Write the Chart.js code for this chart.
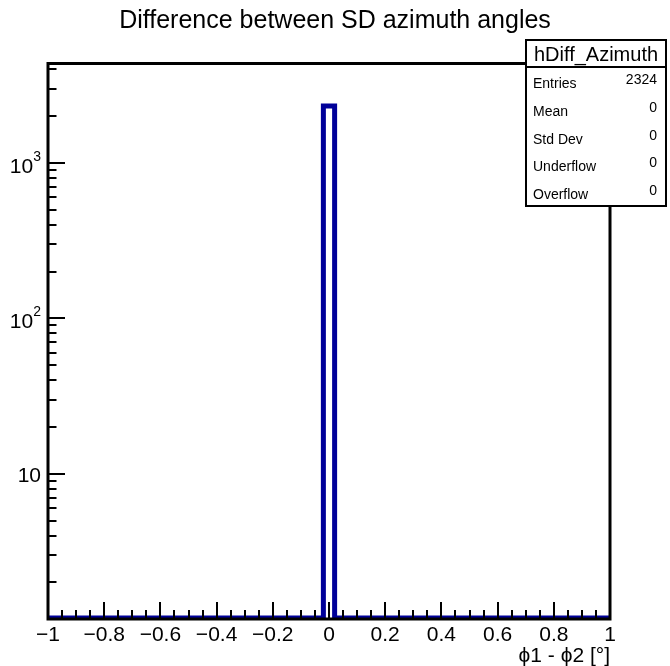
<!DOCTYPE html>
<html>
<head>
<meta charset="utf-8">
<title>hDiff_Azimuth</title>
<script src="https://cdn.jsdelivr.net/npm/chart.js@4.4.1/dist/chart.umd.min.js"></script>
<style>
  html, body { margin: 0; padding: 0; background: #fff; }
  #wrap { width: 670px; height: 666px; }
</style>
</head>
<body>
<div id="wrap"><canvas id="hist" width="670" height="666"></canvas></div>
<script>
// hDiff_Azimuth: bin edges and bin contents (all entries land in the bin around 0)
var binEdges = [-1, -0.02, 0.02, 1];
var binCounts = [0, 2324, 0];

var xTickValues = [-1, -0.8, -0.6, -0.4, -0.2, 0, 0.2, 0.4, 0.6, 0.8, 1];
var xTickLabels = ['\u22121', '\u22120.8', '\u22120.6', '\u22120.4', '\u22120.2', '0', '0.2', '0.4', '0.6', '0.8', '1'];
var yTickValues = [10, 100, 1000];
var yTickExponents = ['', '2', '3'];

var statsTitle = 'hDiff_Azimuth';
var statsLabels = ['Entries', 'Mean', 'Std Dev', 'Underflow', 'Overflow'];
var statsValues = ['2324', '0', '0', '0', '0'];

var titleText = 'Difference between SD azimuth angles';
var xAxisTitle = '\u03d51 - \u03d52 [\u00b0]';

var yMin = 1.18, yMax = 4400;

var FONT = '"Liberation Sans", Arial, Helvetica, sans-serif';

/**
 * Histogram outline as a stepped line: segment i runs at the height of bin i.
 * Empty bins sit on the axis floor, like ROOT draws them on a log scale.
 */

var outline = [];
for (var i = 0; i < binEdges.length; i++) {
    var c = i < binCounts.length ? binCounts[i] : binCounts[binCounts.length - 1];
    outline.push({ x: binEdges[i], y: c > 0 ? c : yMin });
}

/**
 * ROOT style frame, inward ticks, labels, stats box and title
 */

var rootDecor = {
    id: 'rootDecor',
    afterDatasetsDraw: function(chart) {
        var ctx = chart.ctx;
        var area = chart.chartArea;
        var xs = chart.scales.x;
        var ys = chart.scales.y;

        ctx.save();
        ctx.strokeStyle = '#000';
        ctx.lineCap = 'butt';

        // y ticks: decades long, 2..9 short
        ctx.lineWidth = 2;
        for (var e = 0; e < 4; e++) {
            for (var m = 1; m < 10; m++) {
                var v = m * Math.pow(10, e);
                if (v < ys.min || v > ys.max) continue;
                var py = Math.round(ys.getPixelForValue(v));
                var len = m == 1 ? 17 : 8.5;
                ctx.beginPath();
                ctx.moveTo(area.left, py);
                ctx.lineTo(area.left + len, py);
                ctx.stroke();
            }
        }

        // x ticks every 0.05, long ones at labelled values
        for (var k = -20; k <= 20; k++) {
            var px = Math.round(xs.getPixelForValue(k * 0.05));
            var tl = k % 4 == 0 ? 16 : 8;
            ctx.beginPath();
            ctx.moveTo(px, area.bottom);
            ctx.lineTo(px, area.bottom - tl);
            ctx.stroke();
        }

        // frame
        ctx.lineWidth = 3;
        ctx.strokeRect(area.left, area.top + 0.5, area.right - area.left, area.bottom + 1 - area.top - 0.5);

        // x tick labels
        ctx.fillStyle = '#000';
        ctx.font = '21px ' + FONT;
        ctx.textAlign = 'center';
        ctx.textBaseline = 'alphabetic';
        for (var j = 0; j < xTickValues.length; j++) {
            ctx.fillText(xTickLabels[j], xs.getPixelForValue(xTickValues[j]), 641);
        }

        // x axis title
        ctx.textAlign = 'right';
        ctx.fillText(xAxisTitle, area.right, 662);

        // y tick labels: 10, 10^2, 10^3
        for (var t = 0; t < yTickValues.length; t++) {
            var yy = ys.getPixelForValue(yTickValues[t]);
            var exp = yTickExponents[t];
            ctx.textAlign = 'right';
            if (exp) {
                ctx.font = '14px ' + FONT;
                ctx.fillText(exp, 41, yy - 2);
                var ew = ctx.measureText(exp).width;
                ctx.font = '21px ' + FONT;
                ctx.fillText('10', 41 - ew, yy + 10);
            } else {
                ctx.font = '21px ' + FONT;
                ctx.fillText('10', 41, yy + 8);
            }
        }

        // stats box
        var bx = 526, by = 40, bw = 140, bh = 166, head = 27;
        ctx.fillStyle = '#fff';
        ctx.fillRect(bx, by, bw, bh);
        ctx.lineWidth = 2;
        ctx.strokeStyle = '#000';
        ctx.strokeRect(bx, by, bw, bh);
        ctx.beginPath();
        ctx.moveTo(bx, by + head);
        ctx.lineTo(bx + bw, by + head);
        ctx.stroke();

        ctx.fillStyle = '#000';
        ctx.font = '20px ' + FONT;
        ctx.textAlign = 'center';
        ctx.fillText(statsTitle, bx + bw / 2, by + 21);

        ctx.font = '14px ' + FONT;
        for (var r = 0; r < statsLabels.length; r++) {
            var ry = by + head + 21 + r * 27.8;
            ctx.textAlign = 'left';
            ctx.fillText(statsLabels[r], bx + 7, ry);
            ctx.textAlign = 'right';
            ctx.fillText(statsValues[r], bx + bw - 9, ry - 4);
        }

        // title
        ctx.font = '25px ' + FONT;
        ctx.textAlign = 'center';
        ctx.fillText(titleText, 335, 28);

        ctx.restore();
    }
};

var chart = new Chart(document.getElementById('hist').getContext('2d'), {
    type: 'line',
    data: {
        datasets: [{
            label: statsTitle,
            data: outline,
            stepped: 'before',
            borderColor: '#000099',
            borderWidth: 5,
            pointRadius: 0,
            fill: false,
            clip: { left: 5, right: 5, top: 5, bottom: 0 }
        }]
    },
    options: {
        responsive: false,
        animation: false,
        devicePixelRatio: 1,
        layout: { padding: { left: 48, top: 63, right: 60, bottom: 48 } },
        plugins: {
            legend: { display: false },
            title: { display: false },
            tooltip: { enabled: false }
        },
        scales: {
            x: { type: 'linear', min: -1, max: 1, display: false },
            y: { type: 'logarithmic', min: yMin, max: yMax, display: false }
        }
    },
    plugins: [rootDecor]
});
</script>
</body>
</html>
